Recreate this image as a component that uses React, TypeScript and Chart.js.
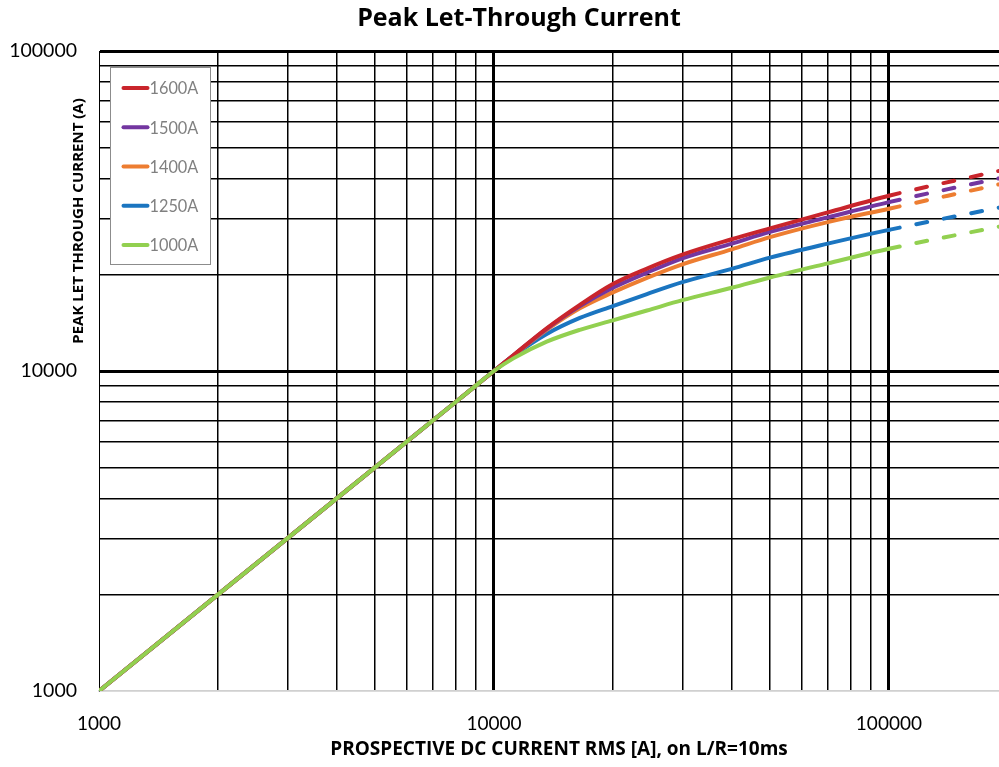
import React, { useEffect, useRef } from "react";
import { Chart, registerables } from "chart.js";

Chart.register(...registerables);

const TITLE = "Peak Let-Through Current";
const X_TITLE = "PROSPECTIVE DC CURRENT RMS [A], on L/R=10ms";
const Y_TITLE = "PEAK LET THROUGH CURRENT (A)";

const X_POINTS = [1000, 2000, 5000, 8000, 9000, 10000, 11200, 13600, 16500, 20000, 24400, 30000, 40000, 50000, 70000, 100000, 190000];
const SERIES_LABELS = ["1600A", "1500A", "1400A", "1250A", "1000A"];
const SERIES_COLORS = ["#C9252C", "#7336A0", "#ED7D31", "#1B75C0", "#92D050"];
const S1600 = [1000, 2000, 5000, 8000, 9000, 10000, 11200, 13600, 16100, 18700, 20900, 23100, 25800, 27900, 31300, 35300, 42200];
const S1500 = [1000, 2000, 5000, 8000, 9000, 10000, 11200, 13550, 15950, 18200, 20300, 22500, 25000, 27200, 30200, 33700, 40000];
const S1400 = [1000, 2000, 5000, 8000, 9000, 10000, 11180, 13450, 15700, 17600, 19550, 21550, 24000, 26200, 29200, 32150, 38300];
const S1250 = [1000, 2000, 5000, 8000, 9000, 10000, 11150, 13050, 14650, 15960, 17400, 18950, 20850, 22600, 25000, 27600, 32400];
const S1000 = [1000, 2000, 5000, 8000, 9000, 10000, 10950, 12350, 13450, 14400, 15450, 16650, 18200, 19600, 21700, 24100, 28250];
const SERIES = [S1600, S1500, S1400, S1250, S1000];

const X_MIN = 1000;
const X_MAX = 190000;
const Y_MIN = 1000;
const Y_MAX = 100000;
const DASH_FROM = 100000;
const GRID_TICKS = [
  1000, 2000, 3000, 4000, 5000, 6000, 7000, 8000, 9000,
  10000, 20000, 30000, 40000, 50000, 60000, 70000, 80000, 90000,
  100000,
];
const LABEL_TICKS = [1000, 10000, 100000];

const FONT = "Lato, 'Open Sans', 'DejaVu Sans', sans-serif";
const BOLD_FONT = "'Open Sans', Lato, 'DejaVu Sans', sans-serif";

const overlayPlugin = {
  id: "overlay",
  afterDraw(chart: any) {
    const ctx = chart.ctx;
    const area = chart.chartArea;
    ctx.save();
    // Title
    ctx.fillStyle = "#000";
    ctx.font = `bold 25px ${BOLD_FONT}`;
    ctx.textAlign = "center";
    ctx.textBaseline = "middle";
    ctx.fillText(TITLE, 519, 19);
    // X title
    ctx.font = `bold 19px ${BOLD_FONT}`;
    ctx.fillText(X_TITLE, 559, 750);
    // Y title
    ctx.save();
    ctx.translate(79, 221);
    ctx.rotate(-Math.PI / 2);
    ctx.font = `bold 15px ${BOLD_FONT}`;
    ctx.fillText(Y_TITLE, 0, 0);
    ctx.restore();

    // Legend box
    const bx = area.left + 11.5;
    const by = area.top + 16.5;
    const bw = 100;
    const bh = 197;
    ctx.fillStyle = "#fff";
    ctx.fillRect(bx, by, bw, bh);
    ctx.strokeStyle = "#8c8c8c";
    ctx.lineWidth = 1;
    ctx.strokeRect(bx, by, bw, bh);
    chart.data.datasets.forEach((ds: any, i: number) => {
      const y = by + 20.5 + i * 39.25;
      ctx.strokeStyle = ds.borderColor;
      ctx.lineWidth = 4;
      ctx.lineCap = "round";
      ctx.beginPath();
      ctx.moveTo(bx + 13, y);
      ctx.lineTo(bx + 37, y);
      ctx.stroke();
      ctx.fillStyle = "#808080";
      ctx.font = `16.3px ${FONT}`;
      ctx.textAlign = "left";
      ctx.textBaseline = "middle";
      ctx.fillText(ds.label, bx + 39, y + 1);
    });
    ctx.restore();
  },
};

export default function App() {
  const ref = useRef<HTMLCanvasElement | null>(null);

  useEffect(() => {
    if (!ref.current) return;
    const isMajor = (v: number) => LABEL_TICKS.includes(v);
    const datasets = SERIES.map((vals, i) => ({
      label: SERIES_LABELS[i],
      data: X_POINTS.map((x, j) => ({ x, y: vals[j] })),
      borderColor: SERIES_COLORS[i],
      backgroundColor: SERIES_COLORS[i],
      borderWidth: 4,
      pointRadius: 0,
      fill: false,
      cubicInterpolationMode: "monotone" as const,
      borderCapStyle: "round" as const,
      order: i === 4 ? 0 : i + 1,
      segment: {
        borderDash: (c: any) => (c.p0.parsed.x >= DASH_FROM ? [11, 17] : undefined),
      },
    }));

    const chart = new Chart(ref.current, {
      type: "line",
      data: { datasets },
      options: {
        responsive: false,
        animation: false,
        layout: { padding: { top: 51, right: 0, left: 0, bottom: 0 } },
        plugins: {
          legend: { display: false },
          title: { display: false },
          tooltip: { enabled: false },
        },
        scales: {
          x: {
            type: "logarithmic",
            min: X_MIN,
            max: X_MAX,
            afterBuildTicks: (s: any) => {
              s.ticks = GRID_TICKS.map((v) => ({ value: v }));
            },
            afterFit: (s: any) => {
              s.height = 76;
            },
            grid: {
              drawTicks: false,
              color: () => "#000",
              lineWidth: (c: any) =>
                c.tick && c.tick.value === 1000 ? 1 : c.tick && isMajor(c.tick.value) ? 3 : 1.5,
            },
            border: { display: true, color: "#d0d0d0", width: 1.5 },
            ticks: {
              autoSkip: false,
              maxRotation: 0,
              padding: 21,
              color: "#000",
              font: { family: FONT, size: 19 },
              callback: (v: any) => (isMajor(Number(v)) ? String(v) : ""),
            },
          },
          y: {
            type: "logarithmic",
            min: Y_MIN,
            max: Y_MAX,
            afterBuildTicks: (s: any) => {
              s.ticks = GRID_TICKS.map((v) => ({ value: v }));
            },
            afterFit: (s: any) => {
              s.width = 99;
            },
            grid: {
              drawTicks: false,
              color: (c: any) => (c.tick && c.tick.value === 1000 ? "#d0d0d0" : "#000"),
              lineWidth: (c: any) =>
                c.tick && isMajor(c.tick.value) && c.tick.value !== 1000 ? 3 : 1.5,
            },
            border: { display: true, color: "#000", width: 1 },
            ticks: {
              autoSkip: false,
              padding: 22,
              color: "#000",
              font: { family: FONT, size: 19.5 },
              callback: (v: any) => (isMajor(Number(v)) ? String(v) : ""),
            },
          },
        },
      },
      plugins: [overlayPlugin],
    });
    return () => chart.destroy();
  }, []);

  return (
    <div style={{ position: "fixed", left: 0, top: 0, width: 999, height: 767, background: "#fff" }}>
      <canvas ref={ref} width={999} height={767} />
    </div>
  );
}
